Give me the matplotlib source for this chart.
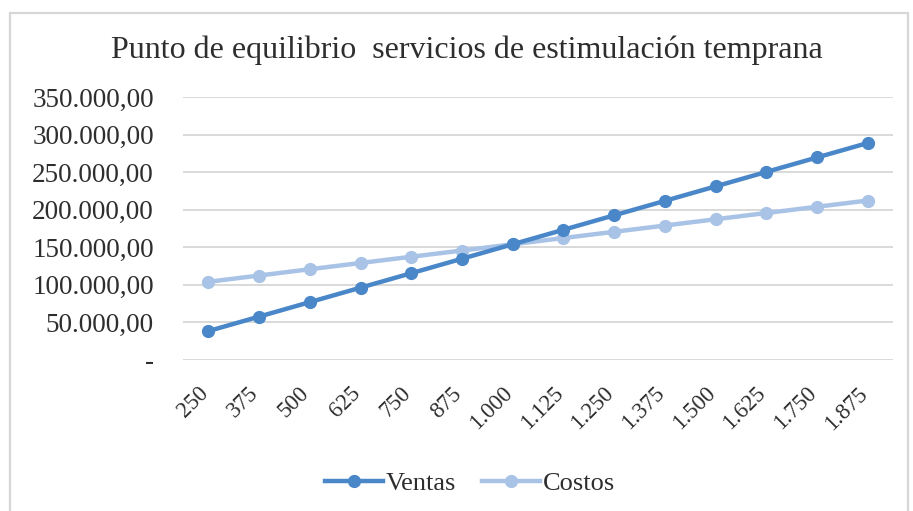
import matplotlib
matplotlib.use("Agg")
import matplotlib.pyplot as plt
from matplotlib.patches import Rectangle
from matplotlib.ticker import FuncFormatter
from matplotlib.transforms import ScaledTranslation

# Break-even data: units sold vs. sales and total costs
unidades = ["250", "375", "500", "625", "750", "875", "1.000",
            "1.125", "1.250", "1.375", "1.500", "1.625", "1.750", "1.875"]
ventas = [38500, 57750, 77000, 96250, 115500, 134750, 154000,
          173250, 192500, 211750, 231000, 250250, 269500, 288750]
costos = [104100, 112400, 120800, 129100, 137400, 145700, 154000,
          162300, 170600, 178900, 187300, 195600, 203900, 212200]

titulo = "Punto de equilibrio  servicios de estimulación temprana"
color_ventas = "#4a87c9"
color_costos = "#a8c3e6"
color_texto = "#2e2e2e"

plt.rcParams["font.family"] = ["Liberation Serif", "DejaVu Serif"]

fig = plt.figure(figsize=(9.13, 5.11), dpi=100)
fig.patch.set_facecolor("white")

# light chart border
fig.patches.append(Rectangle((10 / 913, -0.02), 898 / 913, 1.02 - 13 / 511,
                             transform=fig.transFigure, fill=False,
                             edgecolor="#d6d6d6", linewidth=1.6, zorder=0))

ax = fig.add_axes([183 / 913, 1 - 360 / 511, 710 / 913, 263 / 511])
x = list(range(len(unidades)))

ax.plot(x, costos, color=color_costos, lw=3.2, marker="o", ms=8.5,
        label="Costos", zorder=3)
ax.plot(x, ventas, color=color_ventas, lw=3.2, marker="o", ms=8.5,
        label="Ventas", zorder=4)

ax.set_xlim(-0.5, len(unidades) - 0.5)
ax.set_ylim(0, 350000)
ax.set_yticks(range(0, 350001, 50000))


def fmt(v, pos):
    if v == 0:
        return "-"
    s = f"{v:,.2f}"
    return s.replace(",", "X").replace(".", ",").replace("X", ".")


ax.yaxis.set_major_formatter(FuncFormatter(fmt))
ax.set_xticks(x)
ax.set_xticklabels(unidades, rotation=45, ha="right", va="top",
                   rotation_mode="anchor")
ax.tick_params(axis="both", length=0, colors=color_texto)
ax.tick_params(axis="y", pad=21, labelsize=19.5)
ax.tick_params(axis="x", pad=18, labelsize=16.5)

# rotated labels end just left of their category
shift = ScaledTranslation(-11 / 100, 2 / 100, fig.dpi_scale_trans)
for lbl in ax.get_xticklabels():
    lbl.set_transform(lbl.get_transform() + shift)

ax.grid(axis="y", color="#d9d9d9", lw=1.4)
ax.set_axisbelow(True)
for s in ax.spines.values():
    s.set_visible(False)

fig.text(467 / 913, 1 - 50 / 511, titulo, ha="center", va="center",
         fontsize=23, color=color_texto)

handles, labels = ax.get_legend_handles_labels()
ax.legend(handles[::-1], labels[::-1], loc="center",
          bbox_to_anchor=(470 / 913, 1 - 483 / 511),
          bbox_transform=fig.transFigure, ncol=2, frameon=False,
          fontsize=19, handlelength=2.2, handletextpad=0.1,
          columnspacing=1.0, labelcolor=color_texto)

fig.savefig("out.png", dpi=100, facecolor="white")
